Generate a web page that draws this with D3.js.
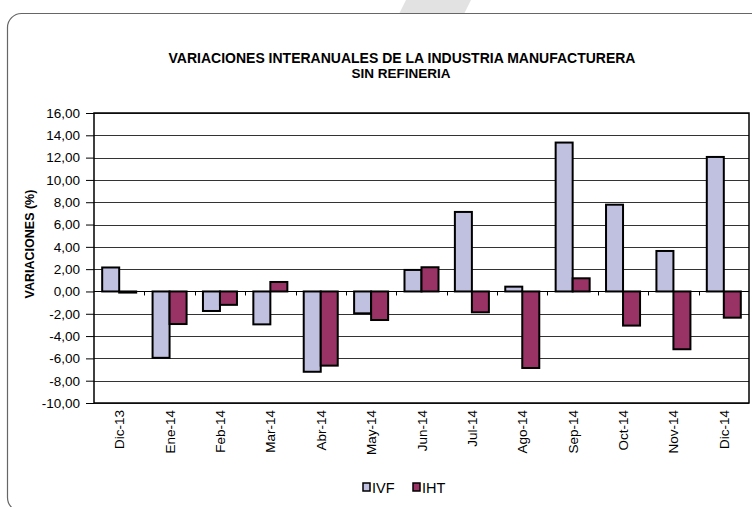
<!DOCTYPE html>
<html>
<head>
<meta charset="utf-8">
<script src="https://cdnjs.cloudflare.com/ajax/libs/d3/7.8.5/d3.min.js"></script>
<style>
  body { margin: 0; background: #fff; }
  svg { display: block; font-family: Arial, "Liberation Sans", sans-serif; }
</style>
</head>
<body>
<div id="chart"></div>
<script>
  const categories = ["Dic-13", "Ene-14", "Feb-14", "Mar-14", "Abr-14", "May-14", "Jun-14",
    "Jul-14", "Ago-14", "Sep-14", "Oct-14", "Nov-14", "Dic-14"];
  const seriesNames = ["IVF", "IHT"];
  const ivf = [2.15, -5.95, -1.75, -2.95, -7.2, -1.96, 1.93, 7.13, 0.43, 13.35, 7.78, 3.63, 12.06];
  const iht = [-0.1, -2.92, -1.2, 0.85, -6.65, -2.56, 2.17, -1.87, -6.86, 1.18, -3.06, -5.18, -2.35];
  const yTicks = [16, 14, 12, 10, 8, 6, 4, 2, 0, -2, -4, -6, -8, -10];
  const colors = ["#c0c0e0", "#993366"];

  const width = 752;
  const height = 507;
  const plot = { left: 94, right: 749, top: 113, bottom: 403 };

  const svg = d3.select("#chart")
    .append("svg")
    .attr("width", width)
    .attr("height", height);

  // gray shape behind the card at the top
  svg.append("polygon")
    .attr("points", "406,0 471,0 464,14 399,14")
    .style("fill", "#e2e2e2");

  // the rounded card
  svg.append("rect")
    .attr("x", 7.5)
    .attr("y", 13.5)
    .attr("width", 780)
    .attr("height", 498)
    .attr("rx", 14)
    .style("fill", "#fff")
    .style("stroke", "#666")
    .style("stroke-width", 1.2);

  // title
  const title = svg.append("text")
    .attr("text-anchor", "middle")
    .style("font-weight", "bold");
  title.append("tspan").attr("x", 402).attr("y", 63)
    .style("font-size", "14px")
    .text("VARIACIONES INTERANUALES DE LA INDUSTRIA MANUFACTURERA");
  title.append("tspan").attr("x", 401).attr("y", 78)
    .style("font-size", "13.5px")
    .text("SIN REFINERIA");

  // scales
  const x = d3.scaleBand()
    .domain(categories)
    .range([plot.left, plot.right])
    .paddingInner(0.325)
    .paddingOuter(0.1625);
  const xs = d3.scaleBand()
    .domain(seriesNames)
    .range([0, x.bandwidth()]);
  const y = d3.scaleLinear()
    .domain([-10, 16])
    .range([plot.bottom, plot.top]);

  const locale = d3.formatLocale({ decimal: ",", thousands: ".", grouping: [3], currency: ["", ""], minus: "-" });
  const fmt = locale.format(".2f");

  // gridlines
  svg.append("g")
    .selectAll("line")
    .data(yTicks)
    .join("line")
    .attr("x1", plot.left)
    .attr("x2", plot.right)
    .attr("y1", d => Math.round(y(d)) + 0.5)
    .attr("y2", d => Math.round(y(d)) + 0.5)
    .style("stroke", "#333")
    .style("stroke-width", 1);

  // y axis
  const yAxis = svg.append("g")
    .attr("transform", `translate(${plot.left},0)`)
    .call(d3.axisLeft(y).tickValues(yTicks).tickFormat(fmt).tickSize(8).tickPadding(6));
  yAxis.select(".domain").remove();
  yAxis.selectAll("line").style("stroke", "#000");
  yAxis.selectAll("text")
    .style("font-size", "13.5px")
    .style("font-family", "Arial, 'Liberation Sans', sans-serif")
    .style("fill", "#000");

  // y axis title
  svg.append("text")
    .attr("transform", "translate(34,244) rotate(-90)")
    .attr("text-anchor", "middle")
    .style("font-weight", "bold")
    .style("font-size", "12.5px")
    .text("VARIACIONES (%)");

  // bars
  const groups = svg.append("g")
    .selectAll("g")
    .data(categories)
    .join("g")
    .attr("transform", d => `translate(${x(d)},0)`);

  groups.selectAll("rect")
    .data((d, i) => [ivf[i], iht[i]].map((v, j) => ({ name: seriesNames[j], value: v, color: colors[j] })))
    .join("rect")
    .attr("x", d => xs(d.name))
    .attr("y", d => y(Math.max(0, d.value)))
    .attr("width", xs.bandwidth())
    .attr("height", d => Math.abs(y(d.value) - y(0)))
    .style("fill", d => d.color)
    .style("stroke", "#000")
    .style("stroke-width", 2);

  // category axis at zero with small ticks between groups
  const step = x.step();
  const boundaries = categories.slice(1).map(c => x(c) - (step - x.bandwidth()) / 2);
  svg.append("g")
    .selectAll("line")
    .data(boundaries)
    .join("line")
    .attr("x1", d => Math.round(d) + 0.5)
    .attr("x2", d => Math.round(d) + 0.5)
    .attr("y1", y(0))
    .attr("y2", y(0) + 4)
    .style("stroke", "#000");

  svg.append("line")
    .attr("x1", plot.left)
    .attr("x2", plot.right)
    .attr("y1", Math.round(y(0)) + 0.5)
    .attr("y2", Math.round(y(0)) + 0.5)
    .style("stroke", "#000");

  // plot border
  svg.append("rect")
    .attr("x", plot.left)
    .attr("y", plot.top)
    .attr("width", plot.right - plot.left)
    .attr("height", plot.bottom - plot.top)
    .style("fill", "none")
    .style("stroke", "#000")
    .style("stroke-width", 1.5);

  // x labels, rotated
  svg.append("g")
    .selectAll("text")
    .data(categories)
    .join("text")
    .attr("transform", d => `translate(${x(d) + x.bandwidth() / 2 + 5},410) rotate(-90)`)
    .attr("text-anchor", "end")
    .style("font-size", "13.5px")
    .text(d => d);

  // legend
  const legendItems = [{ name: "IVF", x: 363 }, { name: "IHT", x: 413 }];
  const legend = svg.append("g")
    .selectAll("g")
    .data(legendItems)
    .join("g")
    .attr("transform", d => `translate(${d.x},483)`);
  legend.append("rect")
    .attr("width", 7)
    .attr("height", 8)
    .style("fill", (d, i) => colors[i])
    .style("stroke", "#000")
    .style("stroke-width", 1.5);
  legend.append("text")
    .attr("x", 9)
    .attr("y", 9.5)
    .style("font-size", "14.5px")
    .text(d => d.name);
</script>
</body>
</html>
